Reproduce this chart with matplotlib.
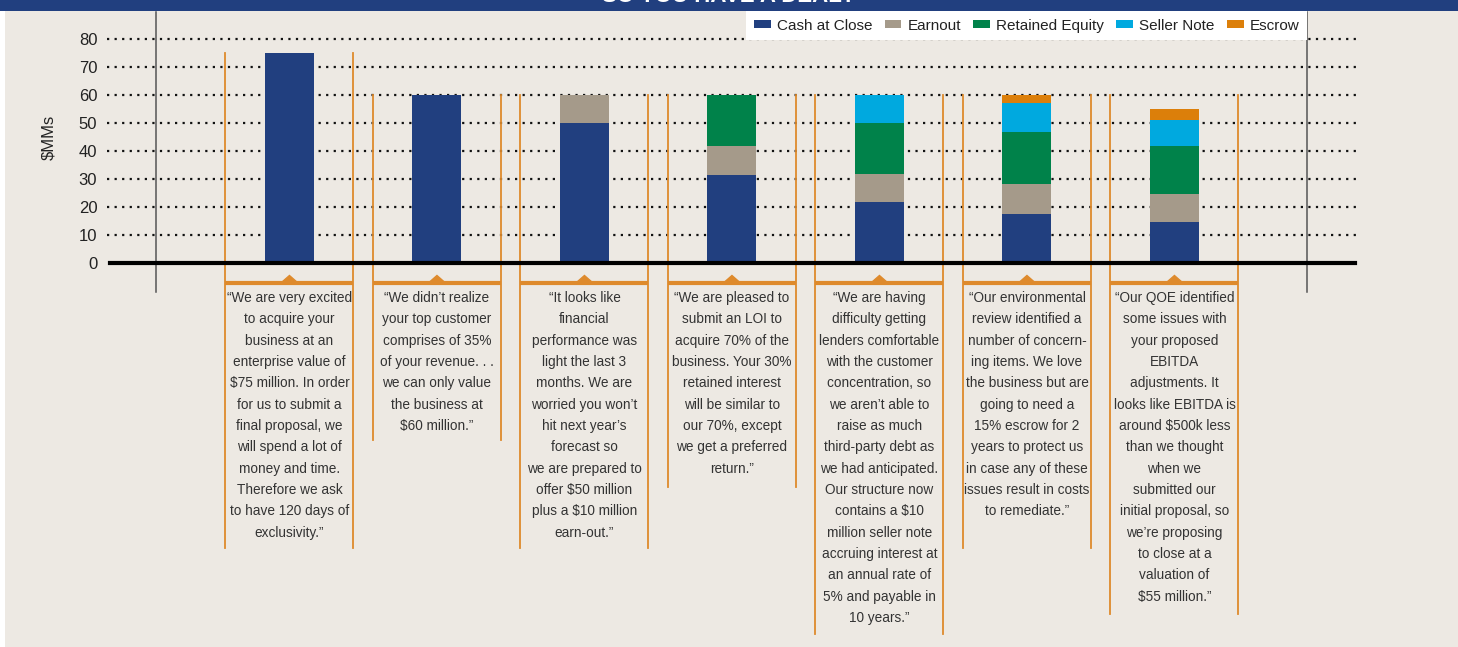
import matplotlib.pyplot as plt
from matplotlib import font_manager
from matplotlib.patches import Polygon, Rectangle

# data ($MMs)
offers = ["Offer 1", "Offer 2", "Offer 3", "Offer 4", "Offer 5", "Offer 6", "Offer 7"]
cash = [75, 60, 50, 31.5, 22, 17.5, 14.6]
earnout = [0, 0, 10, 10.5, 10, 10.7, 10]
retained = [0, 0, 0, 18, 18, 18.6, 17.2]
seller_note = [0, 0, 0, 0, 10, 10.3, 9.3]
escrow = [0, 0, 0, 0, 0, 2.9, 3.9]

series = [("Cash at Close", cash, "#213f7f"),
          ("Earnout", earnout, "#a59a8a"),
          ("Retained Equity", retained, "#00824a"),
          ("Seller Note", seller_note, "#00a9df"),
          ("Escrow", escrow, "#dc7f0a")]

quotes = [
    "\u201cWe are very excited\nto acquire your\nbusiness at an\nenterprise value of\n$75 million. In order\nfor us to submit a\nfinal proposal, we\nwill spend a lot of\nmoney and time.\nTherefore we ask\nto have 120 days of\nexclusivity.\u201d",
    "\u201cWe didn\u2019t realize\nyour top customer\ncomprises of 35%\nof your revenue. . .\nwe can only value\nthe business at\n$60 million.\u201d",
    "\u201cIt looks like\nfinancial\nperformance was\nlight the last 3\nmonths. We are\nworried you won\u2019t\nhit next year\u2019s\nforecast so\nwe are prepared to\noffer $50 million\nplus a $10 million\nearn-out.\u201d",
    "\u201cWe are pleased to\nsubmit an LOI to\nacquire 70% of the\nbusiness. Your 30%\nretained interest\nwill be similar to\nour 70%, except\nwe get a preferred\nreturn.\u201d",
    "\u201cWe are having\ndifficulty getting\nlenders comfortable\nwith the customer\nconcentration, so\nwe aren\u2019t able to\nraise as much\nthird-party debt as\nwe had anticipated.\nOur structure now\ncontains a $10\nmillion seller note\naccruing interest at\nan annual rate of\n5% and payable in\n10 years.\u201d",
    "\u201cOur environmental\nreview identified a\nnumber of concern-\ning items. We love\nthe business but are\ngoing to need a\n15% escrow for 2\nyears to protect us\nin case any of these\nissues result in costs\nto remediate.\u201d",
    "\u201cOur QOE identified\nsome issues with\nyour proposed\nEBITDA\nadjustments. It\nlooks like EBITDA is\naround $500k less\nthan we thought\nwhen we\nsubmitted our\ninitial proposal, so\nwe\u2019re proposing\nto close at a\nvaluation of\n$55 million.\u201d",
]

names = {f.name for f in font_manager.fontManager.ttflist}
cond = "Liberation Sans Narrow" if "Liberation Sans Narrow" in names else "Liberation Sans"

BG = "#ede9e3"
NAVY = "#213f7f"
ORANGE = "#de8a2c"

fig = plt.figure(figsize=(14.58, 6.47), dpi=100, facecolor="white")
fig.patches.append(Rectangle((5 / 1458, 0), 1, 1, transform=fig.transFigure,
                             facecolor=BG, edgecolor="none", zorder=-10))
fig.patches.append(Rectangle((0, 1 - 10.5 / 647), 1, 1, transform=fig.transFigure,
                             facecolor=NAVY, edgecolor="none", zorder=-9))
fig.text(0.5, 1.006, "SO YOU HAVE A DEAL?", color="white", fontsize=16,
         fontweight="bold", ha="center", va="center", family="Liberation Sans")

ax = fig.add_axes([107 / 1458, 1 - 263 / 647, 1253 / 1458, 251 / 647])
ax.set_facecolor("none")
ax.set_xlim(-1.237, 7.258)
ax.set_ylim(0, 89.8)

x = list(range(len(offers)))
bottom = [0] * len(offers)
for label, vals, color in series:
    ax.bar(x, vals, width=0.332, bottom=bottom, color=color, label=label, zorder=3)
    bottom = [b + v for b, v in zip(bottom, vals)]

for yv in range(10, 90, 10):
    ax.axhline(yv, color="#111111", lw=1.6, ls=(0, (1, 2.4)), zorder=1)
ax.plot([-1.215, 7.225], [0, 0], color="black", lw=3, zorder=4, clip_on=False)

for s in ax.spines.values():
    s.set_visible(False)
ax.set_xticks([])
ax.set_yticks(range(0, 90, 10))
ax.tick_params(axis="y", length=0, pad=7, labelsize=12, labelcolor="#222222")
for t in ax.get_yticklabels():
    t.set_family("Liberation Sans")
ax.set_ylabel("$MMs", fontsize=12, color="#222222", family="Liberation Sans", labelpad=16)

# frame lines
for xv in [-0.905, 6.898]:
    ax.plot([xv, xv], [89.8, -10.4], color="#555555", lw=1.1, clip_on=False, zorder=2)

# quote brackets
px = 2.796  # pixels per unit
line_top = [75, 60, 60, 60, 60, 60, 60]
box_bottom = [548, 440, 548, 487, 634, 548, 614]
hw = 64 / 147.5
for i, q in enumerate(quotes):
    yb = (263 - box_bottom[i]) / px
    yh = (263 - 283) / px
    ax.plot([i - hw, i - hw], [line_top[i], yb], color=ORANGE, lw=1.3, clip_on=False, zorder=2)
    ax.plot([i + hw, i + hw], [line_top[i], yb], color=ORANGE, lw=1.3, clip_on=False, zorder=2)
    ax.plot([i - hw, i + hw], [yh, yh], color=ORANGE, lw=3, clip_on=False, zorder=2,
            solid_capstyle="butt")
    tri = Polygon([[i - 0.058, yh], [i + 0.058, yh], [i, yh + 7.5 / px]], closed=True,
                  color=ORANGE, clip_on=False, zorder=2)
    ax.add_patch(tri)
    # one text per line, 21.35 px apart
    for k, line in enumerate(q.split("\n")):
        ax.text(i, (263 - 298 - 21.35 * k) / px, line, ha="center", va="center",
                fontsize=9.8, family=[cond, "DejaVu Sans"], color="#333333", clip_on=False)

leg = ax.legend(loc="upper right", bbox_to_anchor=(1307 / 1458, 1 - 11 / 647),
                bbox_transform=fig.transFigure, ncol=5, frameon=True, fancybox=False,
                handlelength=1.1, handleheight=0.45, handletextpad=0.4, columnspacing=0.8,
                borderpad=0.5, borderaxespad=0,
                prop={"family": [cond, "DejaVu Sans"], "size": 11})
leg.get_frame().set_facecolor("white")
leg.get_frame().set_edgecolor("none")
leg.get_frame().set_alpha(1)
for t in leg.get_texts():
    t.set_color("#222222")

fig.savefig("out.png", dpi=100, facecolor=fig.get_facecolor())
